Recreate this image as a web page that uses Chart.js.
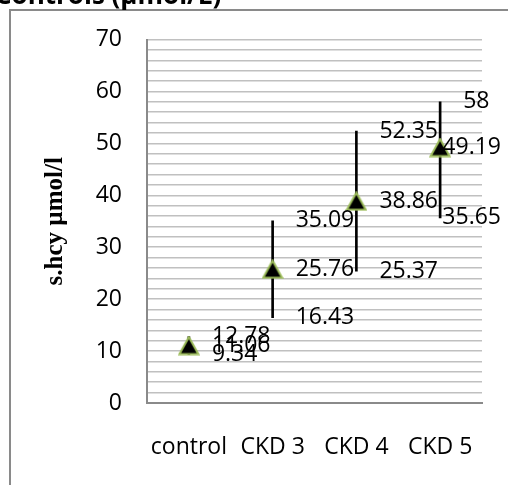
<!DOCTYPE html>
<html>
<head>
<meta charset="utf-8">
<script src="https://cdn.jsdelivr.net/npm/chart.js@4/dist/chart.umd.min.js"></script>
<style>
  html, body { margin: 0; padding: 0; background: #fff; }
  canvas { display: block; }
</style>
</head>
<body>
<canvas id="c" width="508" height="485"></canvas>
<script>
const categories = ['control', 'CKD 3', 'CKD 4', 'CKD 5'];
const highValues = [12.78, 35.09, 52.35, 58];
const lowValues = [9.34, 16.43, 25.37, 35.65];
const meanValues = [11.06, 25.76, 38.86, 49.19];
const yTickLabels = [0, 10, 20, 30, 40, 50, 60, 70];
const titleText = 'Controls (µmol/L)';
const yAxisTitle = 's.hcy µmol/l';

const FONT = '"Open Sans", "Noto Sans", sans-serif';

// triangle marker centred on its bounding box (like Excel)
const marker = document.createElement('canvas');
marker.width = 22; marker.height = 20;
(function () {
  const m = marker.getContext('2d');
  m.beginPath();
  m.moveTo(11, 1.5);
  m.lineTo(20.5, 18.5);
  m.lineTo(1.5, 18.5);
  m.closePath();
  m.fillStyle = '#000';
  m.fill();
  m.lineWidth = 2;
  m.lineJoin = 'miter';
  m.strokeStyle = '#9BBB59';
  m.stroke();
})();

const framePlugin = {
  id: 'frame',
  beforeDraw(chart) {
    const ctx = chart.ctx;
    ctx.save();
    ctx.fillStyle = '#ffffff';
    ctx.fillRect(0, 0, chart.width, chart.height);
    ctx.strokeStyle = '#8a8a8a';
    ctx.lineWidth = 2;
    ctx.beginPath();
    ctx.moveTo(10, chart.height);
    ctx.lineTo(10, 10);
    ctx.lineTo(chart.width, 10);
    ctx.stroke();
    ctx.fillStyle = '#000';
    ctx.font = 'bold 26px ' + FONT;
    ctx.textBaseline = 'alphabetic';
    ctx.textAlign = 'left';
    ctx.fillText(titleText, -5, 4);
    ctx.restore();
  }
};

const labelPlugin = {
  id: 'hlcLabels',
  afterDatasetsDraw(chart) {
    const ctx = chart.ctx;
    const xs = chart.scales.x, ys = chart.scales.y;
    ctx.save();
    ctx.font = '23px ' + FONT;
    ctx.fillStyle = '#000';
    ctx.textBaseline = 'middle';
    ctx.textAlign = 'left';
    categories.forEach((c, i) => {
      const px = xs.getPixelForValue(i);
      [highValues[i], meanValues[i], lowValues[i]].forEach(v => {
        const t = String(v);
        const w = ctx.measureText(t).width;
        let x = px + 23;
        if (x + w > 501) x = 501 - w;
        ctx.fillText(t, x, ys.getPixelForValue(v));
      });
    });
    ctx.restore();
  }
};

new Chart(document.getElementById('c'), {
  data: {
    labels: categories,
    datasets: [
      {
        type: 'bar',
        data: categories.map((c, i) => [lowValues[i], highValues[i]]),
        backgroundColor: '#000',
        borderWidth: 0,
        barThickness: 2,
        order: 2
      },
      {
        type: 'line',
        data: meanValues,
        showLine: false,
        pointStyle: marker,
        pointRadius: 11,
        pointHoverRadius: 11,
        order: 1
      }
    ]
  },
  options: {
    responsive: false,
    devicePixelRatio: 1,
    animation: false,
    layout: { padding: { left: 0, right: 26, top: 39.5, bottom: 0 } },
    plugins: { legend: { display: false }, tooltip: { enabled: false } },
    scales: {
      x: {
        type: 'category',
        offset: true,
        grid: { display: false, drawTicks: false },
        border: { display: true, color: '#8a8a8a', width: 2 },
        ticks: { font: { family: FONT, size: 23 }, color: '#000', padding: 31, maxRotation: 0 },
        afterFit(s) { s.height = 82; }
      },
      y: {
        min: 0,
        max: 70,
        grid: { color: '#c0c0c0', lineWidth: 1.5, drawTicks: false },
        border: { display: true, color: '#8a8a8a', width: 2 },
        ticks: {
          stepSize: 2,
          autoSkip: false,
          padding: 25,
          color: '#000',
          font: { family: FONT, size: 23 },
          callback: v => yTickLabels.includes(v) ? String(v) : ''
        },
        title: {
          display: true,
          text: yAxisTitle,
          color: '#000',
          font: { family: '"Liberation Serif", "DejaVu Serif", serif', size: 25, weight: 'bold' },
          padding: { top: 41, bottom: 0 }
        },
        afterFit(s) { s.width = 147; }
      }
    }
  },
  plugins: [framePlugin, labelPlugin]
});
</script>
</body>
</html>
